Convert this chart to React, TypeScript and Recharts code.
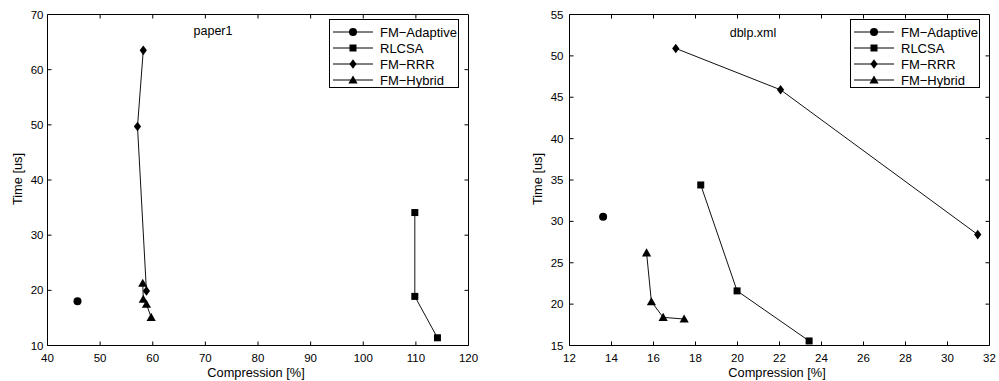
import React from "react";
import { Legend, Scatter, ScatterChart, XAxis, YAxis } from "recharts";

// paper1 (left panel)
const paperAdaptiveX = [45.7];
const paperAdaptiveY = [18.0];
const paperRlcsaX = [109.8, 109.8, 114.1];
const paperRlcsaY = [34.1, 18.9, 11.4];
const paperRrrX = [58.2, 57.1, 58.8];
const paperRrrY = [63.5, 49.7, 19.9];
const paperHybridX = [58.1, 58.2, 58.8, 59.7];
const paperHybridY = [21.3, 18.4, 17.5, 15.1];
const paperXTicks = [40, 50, 60, 70, 80, 90, 100, 110, 120];
const paperYTicks = [10, 20, 30, 40, 50, 60, 70];

// dblp.xml (right panel)
const dblpAdaptiveX = [13.6];
const dblpAdaptiveY = [30.55];
const dblpRlcsaX = [18.25, 19.98, 23.41];
const dblpRlcsaY = [34.4, 21.6, 15.55];
const dblpRrrX = [17.06, 22.05, 31.44];
const dblpRrrY = [50.9, 45.9, 28.4];
const dblpHybridX = [15.67, 15.9, 16.46, 17.46];
const dblpHybridY = [26.2, 20.3, 18.4, 18.2];
const dblpXTicks = [12, 14, 16, 18, 20, 22, 24, 26, 28, 30, 32];
const dblpYTicks = [15, 20, 25, 30, 35, 40, 45, 50, 55];

const seriesNames = ["FM\u2212Adaptive", "RLCSA", "FM\u2212RRR", "FM\u2212Hybrid"];
const markerKinds = ["circle", "square", "diamond", "triangle"];

const FONT = '"Liberation Sans", Arial, sans-serif';
const CHART_H = 381;
const Y_AXIS_W = 40;
const X_AXIS_H = 30;

function toPoints(xs: number[], ys: number[]) {
  return xs.map((x, i) => ({ x, y: ys[i] }));
}

function marker(kind: string, cx: number, cy: number) {
  if (kind === "circle") return <circle cx={cx} cy={cy} r={4} fill="#000" />;
  if (kind === "square")
    return <rect x={cx - 3.5} y={cy - 3.5} width={7} height={7} fill="#000" />;
  if (kind === "diamond")
    return (
      <polygon
        points={`${cx},${cy - 4.8} ${cx + 3.6},${cy} ${cx},${cy + 4.8} ${cx - 3.6},${cy}`}
        fill="#000"
      />
    );
  return (
    <polygon
      points={`${cx},${cy - 4.5} ${cx + 4.6},${cy + 3.6} ${cx - 4.6},${cy + 3.6}`}
      fill="#000"
    />
  );
}

function LegendBox() {
  return (
    <div
      style={{
        width: 130,
        height: 69,
        boxSizing: "border-box",
        border: "1px solid #000",
        background: "#fff",
        paddingTop: 4,
        fontFamily: FONT,
        fontSize: 13,
      }}
    >
      {seriesNames.map((name, i) => (
        <div key={name} style={{ display: "flex", alignItems: "center", height: 16 }}>
          <svg width={48} height={14} style={{ marginLeft: 3 }}>
            <line x1={0} y1={7} x2={40} y2={7} stroke="#000" strokeWidth={1} />
            {marker(markerKinds[i], 20, 7)}
          </svg>
          <span style={{ color: "#000", marginLeft: -1 }}>{name}</span>
        </div>
      ))}
    </div>
  );
}

type PanelProps = {
  width: number;
  margin: { top: number; right: number; bottom: number; left: number };
  series: { x: number; y: number }[][];
  xTicks: number[];
  yTicks: number[];
  title: string;
  titleX: number;
  titleY: number;
  yLabelX: number;
  xLabelX: number;
  yTickMargin: number;
  legendLeft: number;
};

function Panel(p: PanelProps) {
  const xMin = p.xTicks[0];
  const xMax = p.xTicks[p.xTicks.length - 1];
  const yMin = p.yTicks[0];
  const yMax = p.yTicks[p.yTicks.length - 1];
  const tickStyle = { fontSize: 11.5, fill: "#000", fontFamily: FONT };

  // plot box edges (from the margins and axis sizes) for the top/right frame
  const left = p.margin.left + Y_AXIS_W;
  const right = p.width - p.margin.right;
  const top = p.margin.top;
  const bottom = CHART_H - p.margin.bottom - X_AXIS_H;
  const px = (t: number) => left + ((t - xMin) / (xMax - xMin)) * (right - left);
  const py = (t: number) => bottom - ((t - yMin) / (yMax - yMin)) * (bottom - top);

  return (
    <ScatterChart width={p.width} height={CHART_H} margin={p.margin}>
      <XAxis
        type="number"
        dataKey="x"
        domain={[xMin, xMax]}
        ticks={p.xTicks}
        height={X_AXIS_H}
        tickSize={-4}
        tickMargin={12}
        tick={tickStyle}
        stroke="#000"
        interval={0}
      />
      <YAxis
        type="number"
        dataKey="y"
        domain={[yMin, yMax]}
        ticks={p.yTicks}
        width={Y_AXIS_W}
        tickSize={-4}
        tickMargin={p.yTickMargin}
        tick={tickStyle}
        stroke="#000"
        interval={0}
      />
      {p.series.map((data, i) => (
        <Scatter
          key={seriesNames[i]}
          name={seriesNames[i]}
          data={data}
          line={{ stroke: "#111", strokeWidth: 1 }}
          shape={(s: any) => marker(markerKinds[i], s.cx, s.cy)}
          isAnimationActive={false}
        />
      ))}
      <Legend
        layout="horizontal"
        verticalAlign="middle"
        align="center"
        content={() => <LegendBox />}
        wrapperStyle={{ left: p.legendLeft, top: 19, width: 130, height: 69 }}
      />
      <g stroke="#000" strokeWidth={1} fill="none">
        <polyline points={`${left},${top} ${right},${top} ${right},${bottom}`} />
        {p.xTicks.slice(1, -1).map((t) => (
          <line key={"tx" + t} x1={px(t)} y1={top} x2={px(t)} y2={top + 4} />
        ))}
        {p.yTicks.slice(1, -1).map((t) => (
          <line key={"ty" + t} x1={right} y1={py(t)} x2={right - 4} y2={py(t)} />
        ))}
      </g>
      <text x={p.titleX} y={p.titleY} textAnchor="middle" dominantBaseline="central" fontSize={12.5} fontFamily={FONT} fill="#000">
        {p.title}
      </text>
      <text
        x={p.yLabelX}
        y={179}
        transform={`rotate(-90 ${p.yLabelX} 179)`}
        textAnchor="middle"
        dominantBaseline="central"
        fontSize={12.8}
        fontFamily={FONT}
        fill="#000"
      >
        Time [us]
      </text>
      <text x={p.xLabelX} y={372} textAnchor="middle" dominantBaseline="central" fontSize={12.8} fontFamily={FONT} fill="#000">
        Compression [%]
      </text>
    </ScatterChart>
  );
}

export default function App() {
  const paperSeries = [
    toPoints(paperAdaptiveX, paperAdaptiveY),
    toPoints(paperRlcsaX, paperRlcsaY),
    toPoints(paperRrrX, paperRrrY),
    toPoints(paperHybridX, paperHybridY),
  ];
  const dblpSeries = [
    toPoints(dblpAdaptiveX, dblpAdaptiveY),
    toPoints(dblpRlcsaX, dblpRlcsaY),
    toPoints(dblpRrrX, dblpRrrY),
    toPoints(dblpHybridX, dblpHybridY),
  ];
  return (
    <div
      style={{
        position: "absolute",
        left: 0,
        top: 0,
        width: 999,
        height: 381,
        background: "#fff",
        display: "flex",
        fontFamily: FONT,
      }}
    >
      <Panel
        width={500}
        margin={{ top: 14.5, right: 31.5, bottom: 5.5, left: 7.5 }}
        series={paperSeries}
        xTicks={paperXTicks}
        yTicks={paperYTicks}
        title="paper1"
        titleX={213}
        titleY={30.5}
        yLabelX={17}
        xLabelX={256}
        yTickMargin={8}
        legendLeft={329}
      />
      <Panel
        width={499}
        margin={{ top: 14.5, right: 9.5, bottom: 5.5, left: 29.5 }}
        series={dblpSeries}
        xTicks={dblpXTicks}
        yTicks={dblpYTicks}
        title="dblp.xml"
        titleX={253}
        titleY={33}
        yLabelX={37}
        xLabelX={277}
        yTickMargin={10}
        legendLeft={350}
      />
    </div>
  );
}
